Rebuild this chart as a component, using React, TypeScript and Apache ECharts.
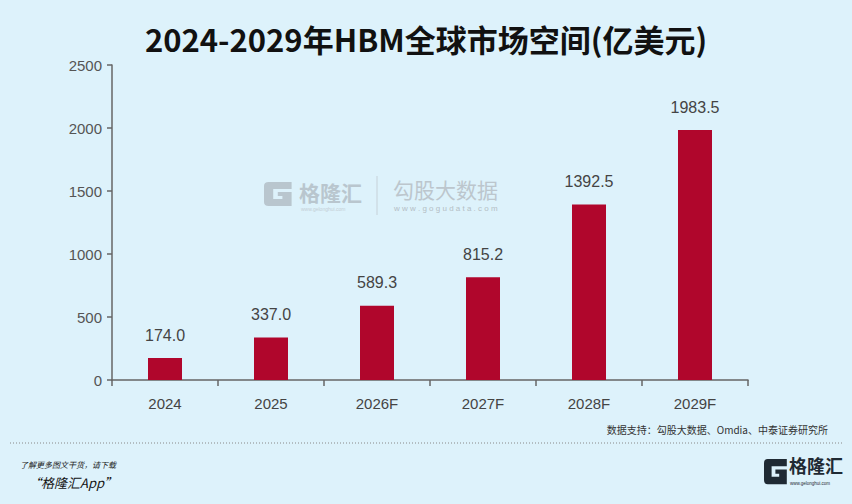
import React, { useEffect, useRef } from "react";
import * as echarts from "echarts";

const categories = ["2024", "2025", "2026F", "2027F", "2028F", "2029F"];
const values = [174.0, 337.0, 589.3, 815.2, 1392.5, 1983.5];
const yTicks = [0, 500, 1000, 1500, 2000, 2500];

const titleText = "2024-2029年HBM全球市场空间(亿美元)";
const sourceText = "数据支持：勾股大数据、Omdia、中泰证券研究所";

const G_PATH =
  "M0 4 Q0 0 4 0 L24 0 L24 7 L8 7 L8 17 L16 17 L16 14 L12 14 L12 10 L24 10 L24 24 L4 24 Q0 24 0 20 Z";
try {
  echarts.graphic.registerShape("glogo", echarts.graphic.extendPath(G_PATH as any, {}) as any);
} catch (e) {}

export default function App() {
  const ref = useRef<HTMLDivElement>(null);
  useEffect(() => {
    document.body.style.margin = "0";
    if (!ref.current) return;
    const chart = echarts.init(ref.current, undefined, { renderer: "svg" });
    const labelFont = "'Liberation Sans', Arial, sans-serif";
    const cjk = "'Noto Sans CJK SC', sans-serif";
    chart.setOption({
      animation: false,
      backgroundColor: "#ddf2fb",
      title: {
        text: titleText,
        left: "center",
        top: 18,
        textStyle: { fontFamily: cjk, fontSize: 31, fontWeight: 600, color: "#111" },
      },
      grid: { left: 112, right: 104, top: 65, bottom: 124 },
      xAxis: {
        type: "category",
        data: categories,
        axisLine: { show: true, lineStyle: { color: "#666", width: 1.5 } },
        axisTick: { show: true, length: 6, lineStyle: { color: "#666", width: 1.5 } },
        axisLabel: { color: "#444", fontSize: 15, fontFamily: labelFont, margin: 16 },
      },
      yAxis: {
        type: "value",
        min: yTicks[0],
        max: yTicks[yTicks.length - 1],
        interval: 500,
        axisLine: { show: true, lineStyle: { color: "#666", width: 1.5 } },
        axisTick: { show: true, length: 5, lineStyle: { color: "#666", width: 1.5 } },
        splitLine: { show: false },
        axisLabel: {
          color: "#555",
          fontSize: 15,
          fontFamily: labelFont,
          margin: 10,
          formatter: (v: number) => String(v),
        },
      },
      series: [
        {
          type: "bar",
          data: values,
          barWidth: 34,
          itemStyle: { color: "#b0062c" },
          label: {
            show: true,
            position: "top",
            distance: 15,
            color: "#444",
            fontSize: 16,
            fontFamily: labelFont,
            formatter: (p: any) => Number(p.value).toFixed(1),
          },
        },
      ],
      graphic: [
        {
          type: "glogo",
          x: 264,
          y: 182,
          scaleX: 1.15,
          scaleY: 1.0,
          style: { fill: "#b9c6ce" },
          silent: true,
        },
        {
          type: "text",
          x: 299,
          y: 181,
          style: { text: "格隆汇", fontFamily: cjk, fontSize: 21, fontWeight: "bold", fill: "#b9c6ce" },
          silent: true,
        },
        {
          type: "text",
          x: 301,
          y: 206,
          style: { text: "www.gelonghui.com", fontFamily: labelFont, fontSize: 5, fill: "#c3ced5" },
          silent: true,
        },
        {
          type: "line",
          shape: { x1: 377, y1: 176, x2: 377, y2: 215 },
          style: { stroke: "#c6d1d8", lineWidth: 1 },
          silent: true,
        },
        {
          type: "text",
          x: 393,
          y: 178,
          style: { text: "勾股大数据", fontFamily: cjk, fontSize: 21, fill: "#bcc6cd" },
          silent: true,
        },
        {
          type: "text",
          x: 394,
          y: 204,
          style: { text: "w w w . g o g u d a t a . c o m", fontFamily: labelFont, fontSize: 8, fill: "#b4bec5" },
          silent: true,
        },
        {
          type: "text",
          right: 24,
          top: 424,
          style: { text: sourceText, fontFamily: cjk, fontSize: 10, fill: "#333" },
        },
        {
          type: "line",
          shape: { x1: 10, y1: 443, x2: 842, y2: 443 },
          style: { stroke: "#888", lineWidth: 1, lineDash: [1, 2] },
        },
        {
          type: "text",
          x: 20,
          y: 460,
          style: { text: "了解更多图文干货，请下载", fontFamily: cjk, fontSize: 8, fontStyle: "italic", fill: "#222" },
        },
        {
          type: "text",
          x: 28,
          y: 476,
          style: { text: "“格隆汇App”", fontFamily: cjk, fontSize: 13, fontStyle: "italic", fill: "#111" },
        },
        {
          type: "glogo",
          x: 764,
          y: 459,
          scaleX: 0.95,
          scaleY: 1.05,
          style: { fill: "#1f2a33" },
        },
        {
          type: "text",
          x: 789,
          y: 456,
          style: { text: "格隆汇", fontFamily: cjk, fontSize: 18, fontWeight: "bold", fill: "#1f2a33" },
        },
        {
          type: "text",
          x: 790,
          y: 481,
          style: { text: "www.gelonghui.com", fontFamily: labelFont, fontSize: 4.5, fill: "#1f2a33" },
        },
      ],
    });
    return () => chart.dispose();
  }, []);
  return <div ref={ref} style={{ width: 852, height: 504 }} />;
}
